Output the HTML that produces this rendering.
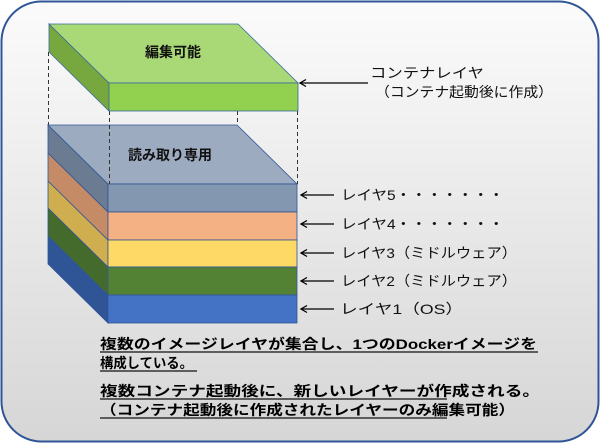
<!DOCTYPE html>
<html><head><meta charset="utf-8"><style>
html,body{margin:0;padding:0;background:#fff}
svg{display:block;font-family:"Liberation Sans","Noto Sans CJK JP",sans-serif}
</style></head><body>
<svg width="600" height="443" viewBox="0 0 600 443" xmlns="http://www.w3.org/2000/svg">
<defs>
<linearGradient id="bg" x1="0" y1="0" x2="0" y2="1">
<stop offset="0" stop-color="#fbfbfb"/><stop offset="1" stop-color="#d6d6d6"/>
</linearGradient>
</defs>
<rect x="1.5" y="1.5" width="597" height="440" rx="40" ry="40" fill="url(#bg)" stroke="#2f5597" stroke-width="2"/>

<g stroke="#333" stroke-width="1" stroke-dasharray="4,3" fill="none">
<line x1="48.5" y1="52" x2="48.5" y2="125"/>
<line x1="109.5" y1="111" x2="109.5" y2="184"/>
<line x1="237.5" y1="111" x2="237.5" y2="125"/>
<line x1="297.5" y1="111" x2="297.5" y2="184"/>
</g>

<g stroke="#3a6a9a" stroke-width="0.8">
<polygon points="49,24 109,83 109,111 49,52" fill="#77a83f"/>
<polygon points="49,24 238,24 298,83 109,83" fill="#a9d877"/>
<rect x="109" y="83" width="189" height="28" fill="#92d050"/>
</g>
<text x="173" y="57" font-size="14" font-weight="bold" text-anchor="middle" fill="#111">編集可能</text>

<g stroke="#2f5597" stroke-width="0.8">
<polygon points="48,236 108,295 108,323 48,264" fill="#2f5597"/>
<polygon points="48,208 108,267 108,295 48,236" fill="#456b2c"/>
<polygon points="48,181 108,240 108,267 48,208" fill="#cfae50"/>
<polygon points="48,153 108,212 108,240 48,181" fill="#c58b66"/>
<polygon points="48,125 108,184 108,212 48,153" fill="#6b7b92"/>
<polygon points="48,125 237,125 297,184 108,184" fill="#9dabc0"/>
<rect x="108" y="184" width="189" height="28" fill="#8497b0"/>
<rect x="108" y="212" width="189" height="28" fill="#f4b183"/>
<rect x="108" y="240" width="189" height="27" fill="#ffd966"/>
<rect x="108" y="267" width="189" height="28" fill="#548235"/>
<rect x="108" y="295" width="189" height="28" fill="#4472c4"/>
</g>
<line x1="109.5" y1="125" x2="109.5" y2="184" stroke="#333" stroke-dasharray="4,3"/>
<text x="170" y="160" font-size="14" font-weight="bold" text-anchor="middle" fill="#111">読み取り専用</text>

<g stroke="#000" stroke-width="1.3" fill="none">
<line x1="368" y1="83" x2="300" y2="83"/><path d="M306,79.5 L300,83 L306,86.5"/>
<line x1="334" y1="195" x2="301" y2="195"/><path d="M307,191.5 L301,195 L307,198.5"/>
<line x1="334" y1="224" x2="301" y2="224"/><path d="M307,220.5 L301,224 L307,227.5"/>
<line x1="334" y1="253" x2="301" y2="253"/><path d="M307,249.5 L301,253 L307,256.5"/>
<line x1="334" y1="281" x2="301" y2="281"/><path d="M307,277.5 L301,281 L307,284.5"/>
<line x1="334" y1="309" x2="301" y2="309"/><path d="M307,305.5 L301,309 L307,312.5"/>
</g>

<g font-size="14" fill="#111">
<text x="370" y="78" textLength="114" lengthAdjust="spacingAndGlyphs">コンテナレイヤ</text>
<text x="375" y="97" textLength="178" lengthAdjust="spacingAndGlyphs">（コンテナ起動後に作成）</text>
<text x="341" y="200" textLength="163" lengthAdjust="spacingAndGlyphs">レイヤ5・・・・・・・</text>
<text x="341" y="229" textLength="163" lengthAdjust="spacingAndGlyphs">レイヤ4・・・・・・・</text>
<text x="341" y="258" textLength="176" lengthAdjust="spacingAndGlyphs">レイヤ3（ミドルウェア）</text>
<text x="341" y="286" textLength="176" lengthAdjust="spacingAndGlyphs">レイヤ2（ミドルウェア）</text>
<text x="340" y="314" textLength="123" lengthAdjust="spacingAndGlyphs">レイヤ1（OS）</text>
</g>

<g font-size="14" font-weight="bold" fill="#000">
<text x="100" y="349" textLength="437" lengthAdjust="spacingAndGlyphs">複数のイメージレイヤが集合し、1つのDockerイメージを</text>
<text x="100" y="368" textLength="93" lengthAdjust="spacingAndGlyphs">構成している。</text>
<text x="100" y="396" textLength="440" lengthAdjust="spacingAndGlyphs">複数コンテナ起動後に、新しいレイヤーが作成される。</text>
<text x="100" y="415" textLength="415" lengthAdjust="spacingAndGlyphs">（コンテナ起動後に作成されたレイヤーのみ編集可能）</text>
</g>
<g stroke="#111" stroke-width="1.2">
<line x1="100" y1="352" x2="538" y2="352"/>
<line x1="100" y1="371" x2="197" y2="371"/>
<line x1="100" y1="399" x2="447" y2="399"/>
<line x1="100" y1="418" x2="447" y2="418"/>
</g>
</svg>
</body></html>
